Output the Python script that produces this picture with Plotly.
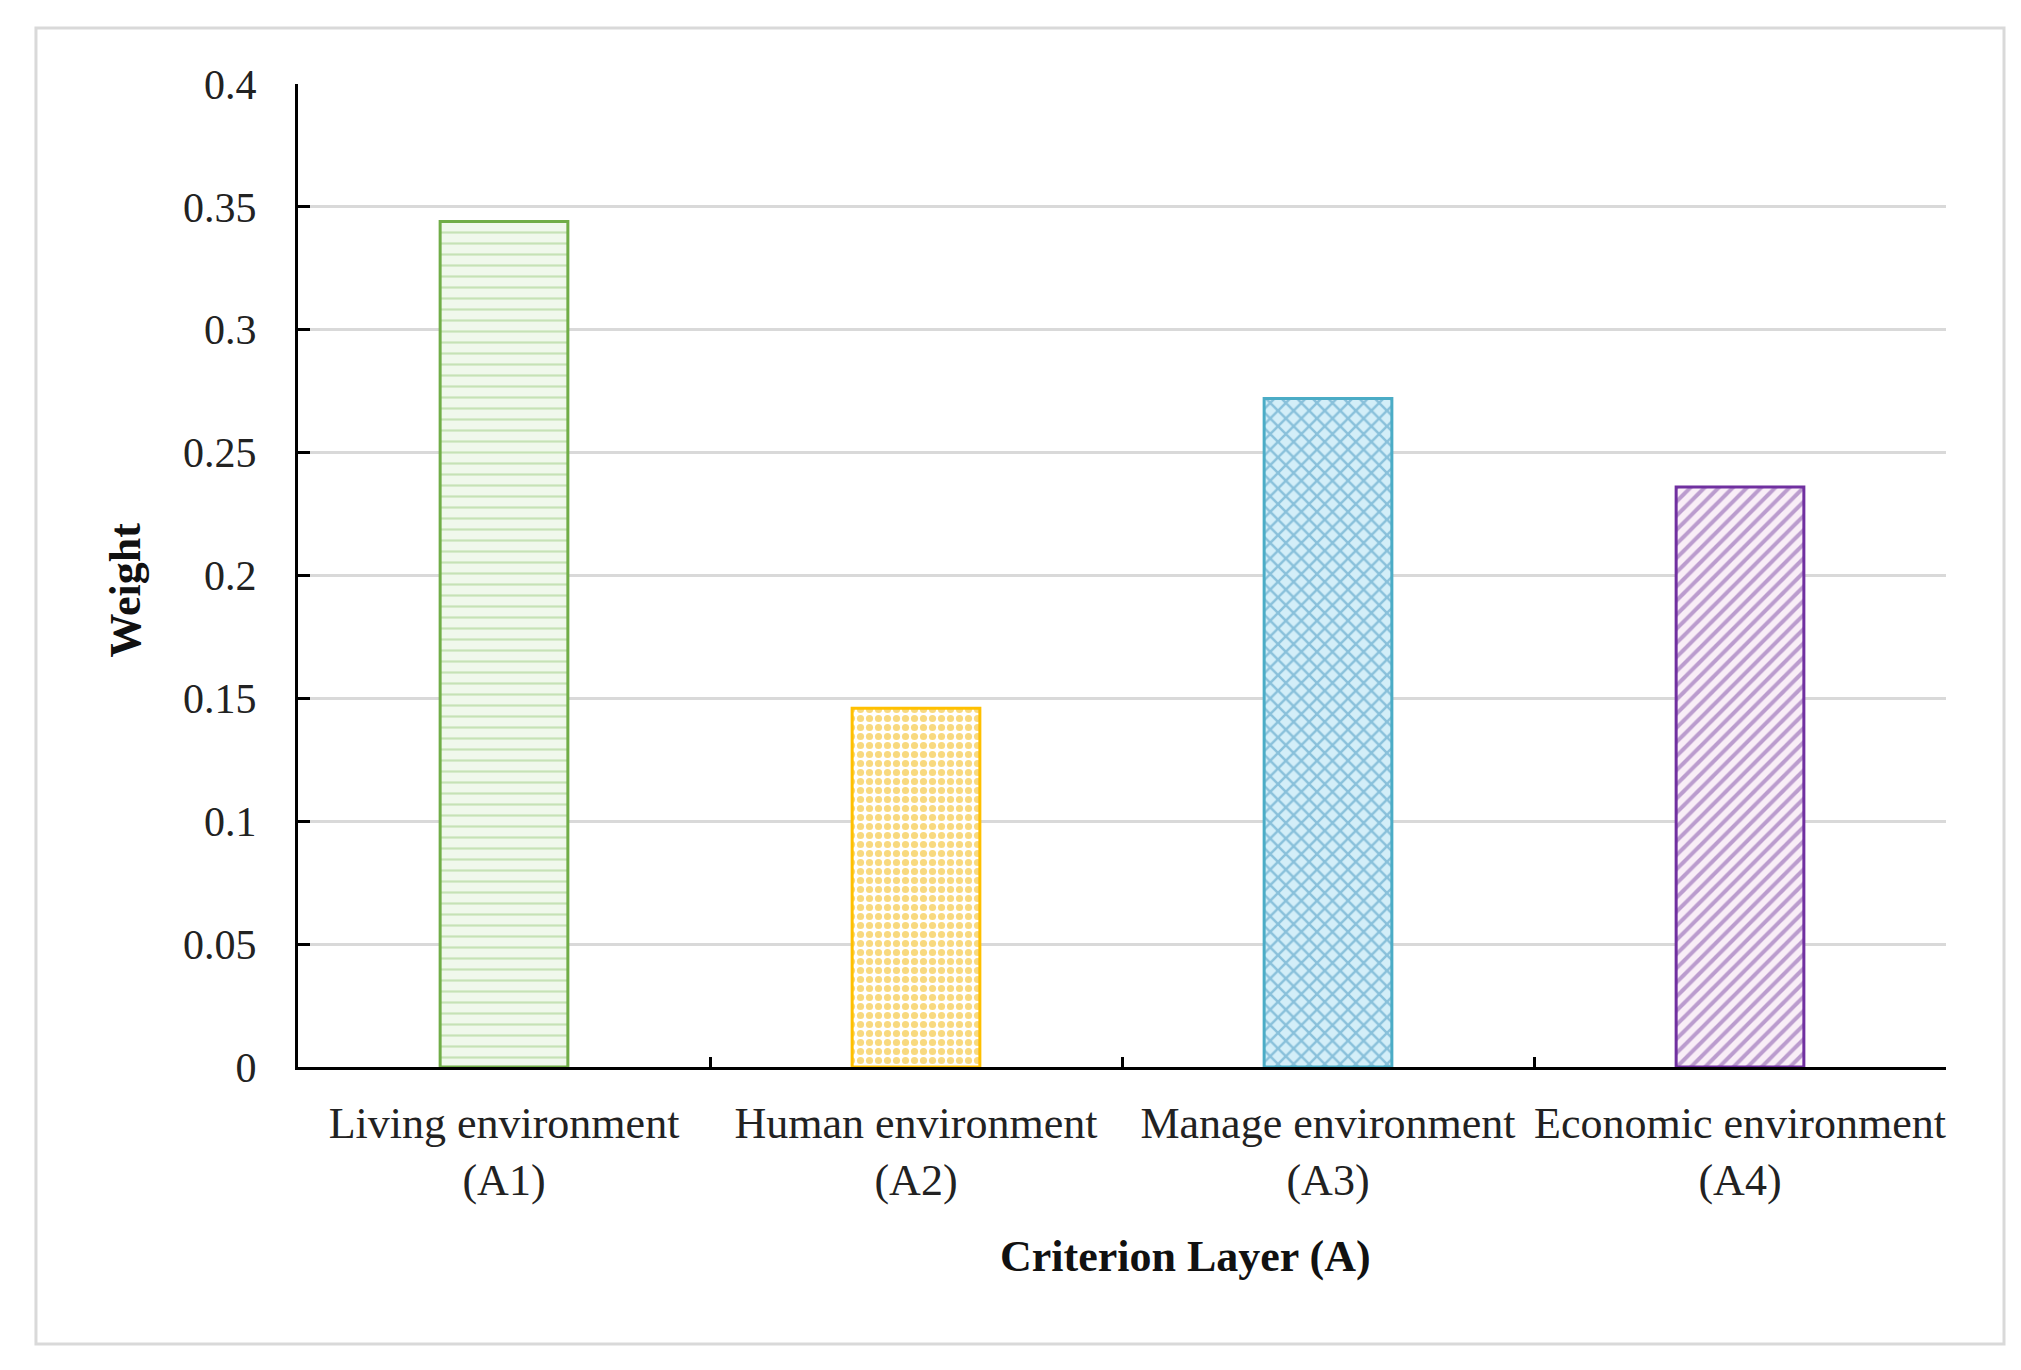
import plotly.graph_objects as go

categories = ["Living environment<br>(A1)", "Human environment<br>(A2)",
              "Manage environment<br>(A3)", "Economic environment<br>(A4)"]
weights = [0.344, 0.146, 0.272, 0.236]
y_ticks = [0, 0.05, 0.1, 0.15, 0.2, 0.25, 0.3, 0.35, 0.4]
y_tick_text = ["0", "0.05", "0.1", "0.15", "0.2", "0.25", "0.3", "0.35", "0.4"]
x_title = "Criterion Layer (A)"
y_title = "Weight"

line_colors = ["#70AD47", "#FFC000", "#4BACC6", "#7030A0"]
pattern_fg = ["#9CCB80", "#F2B400", "#3F93BE", "#7E4AA6"]
fill_colors = ["#F0F8EC", "#FFFFFF", "#D3EEF8", "#F9EEF7"]
pattern_shapes = ["-", ".", "x", "/"]
pattern_sizes = [11, 9, 11, 10]
pattern_solidity = [0.2, 0.5, 0.4, 0.4]

FONT = "Liberation Serif"

fig = go.Figure()
for i in range(len(categories)):
    fig.add_trace(go.Bar(
        x=[categories[i]],
        y=[weights[i]],
        width=0.31,
        marker=dict(
            color=fill_colors[i],
            line=dict(color=line_colors[i], width=3),
            pattern=dict(shape=pattern_shapes[i], fgcolor=pattern_fg[i],
                         size=pattern_sizes[i], solidity=pattern_solidity[i],
                         fillmode="overlay"),
        ),
        showlegend=False,
    ))

fig.update_layout(
    width=2021, height=1370,
    barmode="overlay",
    margin=dict(l=290, r=83, t=76, b=311),
    paper_bgcolor="white", plot_bgcolor="white",
    font=dict(family=FONT, size=44, color="#222222"),
    shapes=[dict(type="rect", xref="paper", yref="paper",
                 x0=-0.159, x1=1.0352, y0=-0.2818, y1=1.057,
                 line=dict(color="#D9D9D9", width=3), layer="below")],
    annotations=[
        dict(text="<b>" + x_title + "</b>", xref="paper", yref="paper",
             x=0.5387, y=-0.1927, xanchor="center", yanchor="middle", showarrow=False,
             font=dict(family=FONT, size=44, color="#111111")),
        dict(text="<b>" + y_title + "</b>", xref="paper", yref="paper",
             x=-0.1048, y=0.485, xanchor="center", yanchor="middle", showarrow=False,
             textangle=-90,
             font=dict(family=FONT, size=44, color="#111111")),
    ],
)

fig.update_xaxes(
    categoryorder="array", categoryarray=categories,
    showline=True, linecolor="black", linewidth=3,
    ticks="inside", tickson="boundaries", ticklen=10, tickwidth=3, tickcolor="black",
    showgrid=False, tickangle=0, automargin=False,
    ticklabelstandoff=15,
    tickfont=dict(family=FONT, size=44, color="#222222"),
)

fig.update_yaxes(
    range=[0, 0.4], tickvals=y_ticks, ticktext=y_tick_text,
    showline=True, linecolor="black", linewidth=3,
    ticks="inside", ticklen=12, tickwidth=3, tickcolor="black",
    showgrid=True, gridcolor="#D9D9D9", gridwidth=3,
    zeroline=False, automargin=False,
    ticklabelstandoff=30,
    tickfont=dict(family=FONT, size=42, color="#222222"),
)

fig.write_html("out.html")
